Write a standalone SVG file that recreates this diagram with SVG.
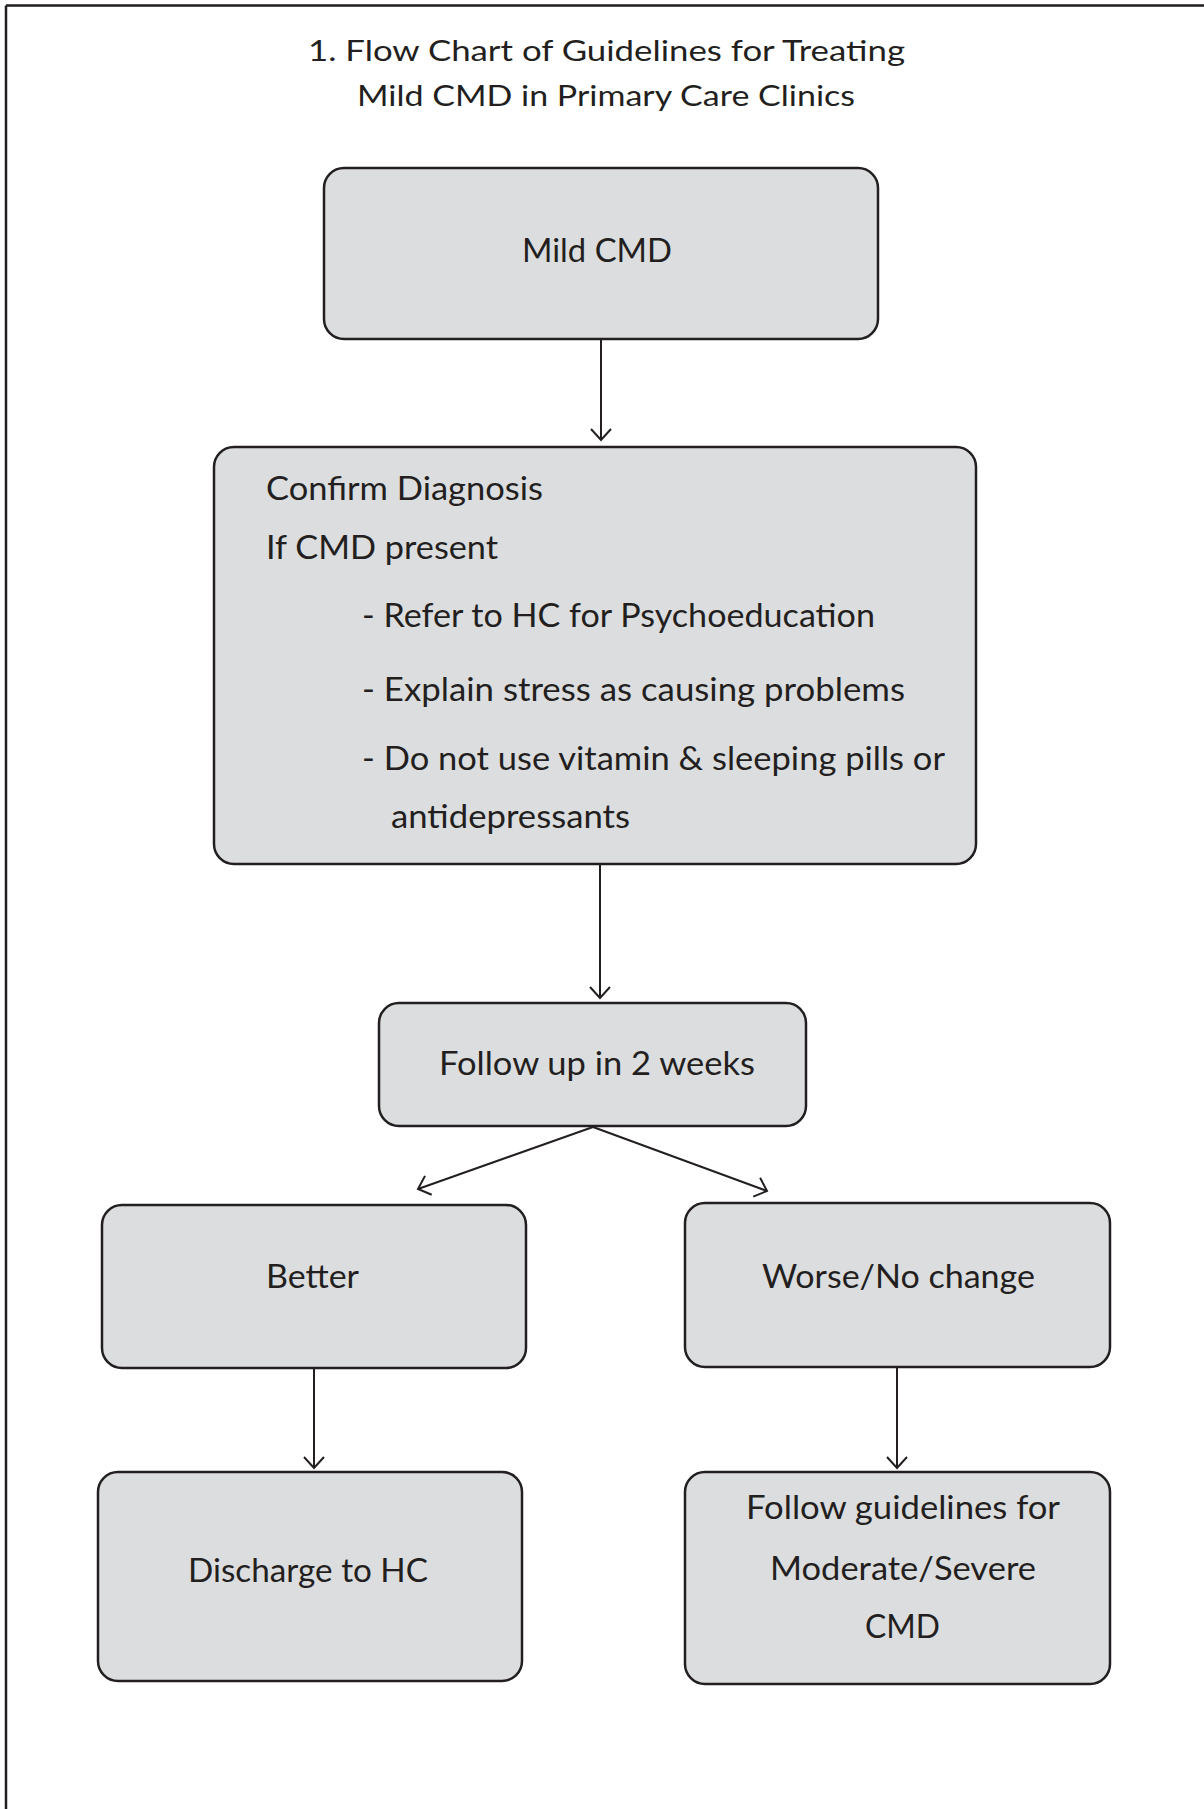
<svg xmlns="http://www.w3.org/2000/svg" width="1204" height="1809" viewBox="0 0 1204 1809">
<style>
.box{fill:#dcdddf;stroke:#231f20;stroke-width:2.5}
.t{font-family:Lato,"Open Sans","Liberation Sans",sans-serif;fill:#231f20;font-size:32px}
.title{font-family:Lato,"Open Sans","Liberation Sans",sans-serif;fill:#231f20;font-size:29px}
.c{fill:none;stroke:#231f20;stroke-width:2}
</style>
<defs>
<marker id="arr" markerUnits="userSpaceOnUse" markerWidth="30" markerHeight="30" refX="0" refY="0" orient="auto" viewBox="-15 -15 30 30" overflow="visible">
<path d="M-11,-10 L0,0 L-11,10" fill="none" stroke="#231f20" stroke-width="2"/>
</marker>
</defs>
<rect width="1204" height="1809" fill="#ffffff"/>
<g id="frame">
<line x1="6" y1="5.5" x2="1204" y2="5.5" stroke="#231f20" stroke-width="2.5"/>
<line x1="6" y1="5.5" x2="6" y2="1809" stroke="#231f20" stroke-width="2.5"/>
</g>
<g id="title">
<text class="title" x="308" y="61" textLength="597" lengthAdjust="spacingAndGlyphs">1. Flow Chart of Guidelines for Treating</text>
<text class="title" x="357" y="106" textLength="498" lengthAdjust="spacingAndGlyphs">Mild CMD in Primary Care Clinics</text>
</g>
<g id="connectors">
<line class="c" x1="601" y1="339" x2="601" y2="440" marker-end="url(#arr)"/>
<line class="c" x1="600" y1="864" x2="600" y2="998" marker-end="url(#arr)"/>
<line class="c" x1="593" y1="1127" x2="418" y2="1189" marker-end="url(#arr)"/>
<line class="c" x1="593" y1="1127" x2="767" y2="1191" marker-end="url(#arr)"/>
<line class="c" x1="314" y1="1368" x2="314" y2="1468" marker-end="url(#arr)"/>
<line class="c" x1="897" y1="1367" x2="897" y2="1468" marker-end="url(#arr)"/>
</g>
<g id="node-mild">
<rect class="box" x="324" y="168" width="554" height="171" rx="20"/>
<text class="t" x="522" y="262" textLength="150" lengthAdjust="spacingAndGlyphs">Mild CMD</text>
</g>
<g id="node-confirm">
<rect class="box" x="214" y="447" width="762" height="417" rx="20"/>
<text class="t" x="266" y="500" textLength="277" lengthAdjust="spacingAndGlyphs">Confirm Diagnosis</text>
<text class="t" x="266" y="559" textLength="232" lengthAdjust="spacingAndGlyphs">If CMD present</text>
<text class="t" x="362" y="627" textLength="513" lengthAdjust="spacingAndGlyphs">- Refer to HC for Psychoeducation</text>
<text class="t" x="362" y="701" textLength="543" lengthAdjust="spacingAndGlyphs">- Explain stress as causing problems</text>
<text class="t" x="362" y="770" textLength="583" lengthAdjust="spacingAndGlyphs">- Do not use vitamin &amp; sleeping pills or</text>
<text class="t" x="391" y="828" textLength="239" lengthAdjust="spacingAndGlyphs">antidepressants</text>
</g>
<g id="node-followup">
<rect class="box" x="379" y="1003" width="427" height="123" rx="20"/>
<text class="t" x="439" y="1075" textLength="316" lengthAdjust="spacingAndGlyphs">Follow up in 2 weeks</text>
</g>
<g id="node-better">
<rect class="box" x="102" y="1205" width="424" height="163" rx="20"/>
<text class="t" x="266" y="1288" textLength="93" lengthAdjust="spacingAndGlyphs">Better</text>
</g>
<g id="node-worse">
<rect class="box" x="685" y="1203" width="425" height="164" rx="20"/>
<text class="t" x="762" y="1288" textLength="273" lengthAdjust="spacingAndGlyphs">Worse/No change</text>
</g>
<g id="node-discharge">
<rect class="box" x="98" y="1472" width="424" height="209" rx="20"/>
<text class="t" x="188" y="1582" textLength="240" lengthAdjust="spacingAndGlyphs">Discharge to HC</text>
</g>
<g id="node-guidelines">
<rect class="box" x="685" y="1472" width="425" height="212" rx="20"/>
<text class="t" x="746" y="1519" textLength="314" lengthAdjust="spacingAndGlyphs">Follow guidelines for</text>
<text class="t" x="770" y="1580" textLength="266" lengthAdjust="spacingAndGlyphs">Moderate/Severe</text>
<text class="t" x="865" y="1638" textLength="75" lengthAdjust="spacingAndGlyphs">CMD</text>
</g>
</svg>
